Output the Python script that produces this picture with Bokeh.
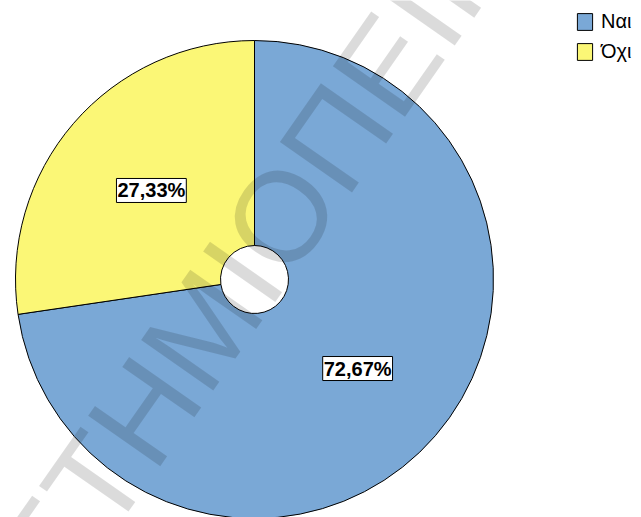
import math
from bokeh.plotting import figure
from bokeh.models import ColumnDataSource, Range1d, Legend, LegendItem
from bokeh.core.properties import value
from bokeh.embed import file_html
from bokeh.resources import INLINE

# ---- data ----
categories = ["Ναι", "Όχι"]
percentages = [72.67, 27.33]
colors = ["#7AA8D6", "#FBF776"]
watermark_left = "ΠΑΝΕΠΙΣΤΗΜΙΟ"
watermark_right = " ΠΕΙΡΑΙΩΣ"

# ---- layout (figure pixels) ----
W, H = 641, 517
CX, CY, R = 254, 279, 239          # pie centre / radius
HOLE = 34 / R


def px(x, y):
    return (x - CX) / R, (CY - y) / R


def fmt(v):
    return f"{v:.2f}".replace(".", ",") + "%"


starts, ends, lx, ly, texts = [], [], [], [], []
cum = 0.0
for v in percentages:
    end = math.radians(90 - cum * 3.6)
    cum += v
    start = math.radians(90 - cum * 3.6)
    mid = (start + end) / 2
    starts.append(start)
    ends.append(end)
    lx.append(0.57 * math.cos(mid))
    ly.append(0.57 * math.sin(mid))
    texts.append(fmt(v))

src = ColumnDataSource(dict(cat=categories, val=percentages, color=colors,
                            start=starts, end=ends, lx=lx, ly=ly, text=texts))

x0, _ = px(0, 0)
x1, _ = px(W, 0)
_, y1 = px(0, 0)
_, y0 = px(0, H)

p = figure(width=W, height=H, x_range=Range1d(x0, x1), y_range=Range1d(y0, y1),
           output_backend="svg", toolbar_location=None, min_border=0)
p.axis.visible = False
p.grid.visible = False
p.outline_line_color = None
p.background_fill_color = "white"
p.border_fill_color = "white"

wedges = p.annular_wedge(x=0, y=0, inner_radius=HOLE, outer_radius=1.0,
                         start_angle="start", end_angle="end",
                         fill_color="color", line_color="black", line_width=1,
                         source=src)

# watermark
ax, ay = px(309, 175)
theta = math.radians(55)
for txt, align in ((watermark_left, "right"), (watermark_right, "left")):
    p.text(x=[ax], y=[ay], text=[txt], angle=theta,
           text_align=align, text_baseline="middle",
           text_font=value("Liberation Sans"), text_font_size="128px",
           text_color="black", text_alpha=0.14)

# percentage labels
p.text(x="lx", y="ly", text="text", source=src,
       text_align="center", text_baseline="middle",
       text_font=value("Liberation Sans"), text_font_style="bold",
       text_font_size="20px", text_color="black",
       background_fill_color="white", border_line_color="black",
       border_line_width=1, padding=1)

legend = Legend(items=[LegendItem(label=c, renderers=[wedges], index=i)
                       for i, c in enumerate(categories)],
                location=(575, H - 63), orientation="vertical",
                border_line_color=None, background_fill_alpha=0,
                padding=0, margin=0, spacing=7,
                glyph_width=19, glyph_height=21, label_standoff=7,
                label_height=21,
                label_text_font="Liberation Sans", label_text_font_size="20px",
                label_text_color="black")
p.add_layout(legend)

open("out.html", "w").write(file_html(p, INLINE))
